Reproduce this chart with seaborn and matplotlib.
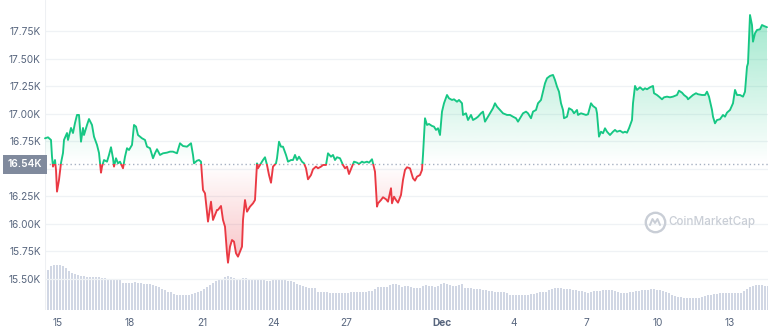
import numpy as np
import pandas as pd
import matplotlib
matplotlib.use("Agg")
import matplotlib.pyplot as plt
import matplotlib.dates as mdates
from matplotlib.patches import Rectangle
from matplotlib.path import Path
from matplotlib.colors import to_rgb
import seaborn as sns

# ---------------- data ----------------
start_time = "2022-11-14 11:00"
price_hours = [0, 3, 6, 7, 8, 10, 11, 12, 14, 16, 18, 19, 22, 23, 26, 28, 30, 32, 34, 36, 38, 39, 42, 44, 47, 49,
               52, 54, 56, 57, 59, 62, 64, 66, 68, 69, 71, 73, 75, 78, 80, 82, 84, 87, 89, 91, 93, 97, 100, 102,
               105, 108, 110, 112, 115, 118, 122, 125, 128, 132, 135, 138, 142, 146, 148, 149, 152, 154, 156, 158,
               160, 163, 166, 168, 172, 173, 176, 178, 180, 182, 183, 185, 187, 189, 191, 193, 195, 197, 198, 200,
               202, 205, 208, 210, 212, 213, 216, 218, 220, 222, 224, 226, 228, 231, 232, 234, 236, 238, 241, 243,
               246, 248, 250, 252, 254, 257, 259, 261, 263, 266, 268, 271, 273, 276, 278, 281, 283, 286, 288, 290,
               292, 295, 298, 300, 302, 304, 307, 309, 312, 314, 317, 319, 322, 324, 327, 328, 330, 332, 333, 336,
               338, 341, 343, 346, 347, 349, 351, 353, 356, 358, 360, 362, 365, 368, 370, 372, 375, 377, 378, 380,
               382, 384, 387, 389, 391, 393, 395, 397, 399, 402, 404, 407, 409, 412, 414, 417, 418, 421, 423, 426,
               428, 431, 433, 436, 438, 440, 442, 445, 448, 450, 452, 455, 458, 462, 465, 468, 471, 473, 476, 478,
               481, 483, 486, 488, 491, 493, 496, 498, 500, 502, 505, 508, 510, 512, 514, 516, 518, 519, 522, 524,
               527, 529, 532, 533, 536, 538, 541, 543, 546, 548, 551, 552, 554, 556, 558, 560, 562, 565, 568, 570,
               572, 575, 578, 580, 582, 584, 587, 588, 590, 592, 595, 598, 600, 602, 605, 608, 609, 612, 614, 617,
               619, 622, 625, 628, 632, 634, 637, 639, 642, 643, 646, 648, 651, 653, 657, 660, 662, 664, 667, 668,
               670, 672, 675, 678, 680, 682, 685, 688, 690, 692, 695, 698, 700, 702, 703, 705, 707, 708, 710, 712,
               715, 717, 719, 722]
price_k = [16.776, 16.785, 16.761, 16.609, 16.519, 16.579, 16.489, 16.292, 16.398, 16.552, 16.643, 16.761, 16.824,
           16.761, 16.870, 16.824, 16.915, 16.988, 16.988, 16.745, 16.870, 16.806, 16.897, 16.951, 16.897, 16.791,
           16.716, 16.643, 16.464, 16.519, 16.579, 16.564, 16.625, 16.695, 16.595, 16.519, 16.595, 16.549, 16.564,
           16.504, 16.609, 16.686, 16.670, 16.716, 16.897, 16.882, 16.806, 16.776, 16.761, 16.700, 16.686, 16.595,
           16.640, 16.677, 16.625, 16.640, 16.646, 16.655, 16.655, 16.640, 16.731, 16.706, 16.700, 16.731, 16.625,
           16.549, 16.573, 16.579, 16.564, 16.307, 16.277, 16.020, 16.201, 16.035, 16.126, 16.126, 16.162, 16.035,
           15.974, 15.733, 15.647, 15.793, 15.853, 15.838, 15.733, 15.702, 15.747, 15.793, 16.035, 16.216, 16.110,
           16.156, 16.186, 16.216, 16.549, 16.504, 16.549, 16.579, 16.604, 16.534, 16.443, 16.373, 16.519, 16.549,
           16.595, 16.745, 16.700, 16.700, 16.625, 16.564, 16.579, 16.579, 16.625, 16.579, 16.609, 16.564, 16.549,
           16.504, 16.404, 16.443, 16.495, 16.519, 16.504, 16.519, 16.534, 16.534, 16.640, 16.609, 16.625, 16.579,
           16.604, 16.595, 16.534, 16.504, 16.519, 16.452, 16.519, 16.564, 16.555, 16.543, 16.564, 16.555, 16.564,
           16.555, 16.586, 16.549, 16.473, 16.156, 16.186, 16.216, 16.241, 16.223, 16.201, 16.323, 16.186, 16.246,
           16.216, 16.192, 16.262, 16.398, 16.489, 16.513, 16.504, 16.413, 16.392, 16.428, 16.443, 16.489, 16.625,
           16.958, 16.897, 16.906, 16.888, 16.882, 16.852, 16.867, 16.806, 17.018, 17.094, 17.169, 17.139, 17.124,
           17.130, 17.108, 17.124, 17.094, 16.988, 17.003, 16.942, 16.988, 16.942, 16.958, 16.972, 17.003, 17.018,
           16.927, 16.958, 17.003, 17.049, 17.094, 17.063, 17.033, 17.003, 16.988, 16.988, 16.972, 16.958, 16.927,
           16.972, 17.003, 17.018, 17.003, 16.958, 17.018, 17.033, 17.094, 17.124, 17.199, 17.275, 17.321, 17.342,
           17.351, 17.305, 17.245, 17.199, 17.094, 17.033, 16.958, 16.972, 17.049, 17.033, 17.003, 17.033, 16.988,
           17.003, 16.997, 16.988, 16.994, 17.094, 17.069, 17.049, 17.003, 16.791, 16.836, 16.822, 16.867, 16.836,
           16.806, 16.836, 16.852, 16.836, 16.845, 16.827, 16.836, 16.827, 16.867, 16.942, 17.094, 17.251, 17.215,
           17.239, 17.215, 17.230, 17.221, 17.239, 17.251, 17.185, 17.169, 17.154, 17.130, 17.148, 17.154, 17.148,
           17.154, 17.169, 17.208, 17.190, 17.169, 17.148, 17.130, 17.154, 17.169, 17.185, 17.176, 17.169, 17.169,
           17.199, 17.154, 17.033, 16.972, 16.912, 16.942, 16.949, 16.988, 16.972, 17.009, 17.033, 17.094, 17.215,
           17.169, 17.169, 17.154, 17.199, 17.426, 17.457, 17.895, 17.804, 17.653, 17.729, 17.759, 17.765, 17.804,
           17.795, 17.784]
baseline_k = 16.54
volume_step_hours = 3
volume_b = [37, 40, 44, 45, 45, 45, 44, 42, 39, 37, 36, 35, 34.5, 34, 33.5, 33, 33, 33, 32.7, 32.5, 32, 31.5, 31,
            31, 31, 30, 27.5, 27, 26.7, 27, 28, 27, 26.7, 26.5, 26, 25.8, 25, 24, 23, 21.5, 20, 18.5, 17.7, 16.5,
            15.5, 15, 15, 15, 15.2, 15.7, 17.5, 18.5, 19.5, 21, 23, 25.5, 27.5, 29, 30.5, 31.5, 33, 34.3, 33.5, 32,
            31, 31.2, 32, 32.5, 31.5, 30, 30.7, 31, 31, 30.3, 29.5, 29.2, 30, 30.5, 31, 30.5, 29.8, 29.3, 28.7, 28,
            26.5, 25.5, 24, 23.3, 22.5, 22, 21.7, 17.7, 17.7, 17.7, 17.7, 17.5, 17.3, 17, 16.8, 16.7, 17, 17.3,
            17.7, 17.7, 17.7, 18, 18.3, 18.3, 18.6, 19, 21.5, 22.7, 23.3, 23.3, 23.3, 25, 26, 26, 24.8, 23.5, 24,
            23.7, 23.3, 22, 21.9, 22.3, 24, 25, 24.3, 23.8, 23.3, 24.5, 25.7, 26.7, 25.7, 24.8, 24.3, 24.3, 25,
            25.7, 22.3, 22, 21.6, 21.2, 21, 20.7, 20.3, 20, 19.3, 18.8, 18.3, 18.3, 18.2, 17.8, 17.5, 15, 15, 15,
            15, 15, 15, 15.3, 15.8, 16.5, 17, 17.7, 18, 18.5, 20.2, 21, 21.7, 21.7, 21.7, 21.2, 21, 20.7, 20.3, 20,
            19.2, 18.6, 18, 17.5, 18, 18.8, 19.3, 19.5, 19.7, 20, 20, 20, 19.5, 18.5, 17.5, 16.7, 17, 17.7, 18.3,
            18.8, 19.3, 19.7, 20, 20.3, 20.7, 21, 20.5, 20, 19.3, 18.5, 17, 15.5, 14, 13.2, 12.8, 12.5, 12.3, 12.3,
            12.3, 12.3, 12.5, 13, 14, 14.8, 15.3, 15.8, 16.3, 16.7, 17, 17.2, 17.3, 17, 16.7, 16.7, 17.5, 19, 21,
            23, 24.3, 24.8, 25, 25, 24.5, 24]
ytick_values = [15.50, 15.75, 16.00, 16.25, 16.75, 17.00, 17.25, 17.50, 17.75]
grid_values = [15.50, 15.75, 16.00, 16.25, 16.50, 16.75, 17.00, 17.25, 17.50, 17.75]
xtick_dates = ["2022-11-15", "2022-11-18", "2022-11-21", "2022-11-24", "2022-11-27",
               "2022-12-01", "2022-12-04", "2022-12-07", "2022-12-10", "2022-12-13"]
xtick_labels = ["15", "18", "21", "24", "27", "Dec", "4", "7", "10", "13"]
watermark_text = "CoinMarketCap"

# ---------------- styling ----------------
GREEN = "#16c784"
RED = "#ea3943"
TICK_COLOR = "#58667e"
GRID_COLOR = "#eff2f5"
VOL_COLOR = "#d1d7e4"

sns.set_theme(style="white")
plt.rcParams["font.family"] = ["Inter", "DejaVu Sans"]

W, H = 768, 332
fig = plt.figure(figsize=(W / 100, H / 100), dpi=100)
ax_left, ax_bottom, ax_right, ax_top = 45, 310, 768, 0
ax = fig.add_axes([ax_left / W, (H - ax_bottom) / H, (ax_right - ax_left) / W, (ax_bottom - ax_top) / H])
ax2 = ax.twinx()

t0 = pd.Timestamp(start_time)
times = t0 + pd.to_timedelta(price_hours, unit="h")
xs = mdates.date2num(times.to_pydatetime())
p = np.array(price_k)
df = pd.DataFrame({"t": xs, "price": p})

vol_times = t0 + pd.to_timedelta(np.arange(len(volume_b)) * volume_step_hours, unit="h")
vx = mdates.date2num(vol_times.to_pydatetime())

x_min = mdates.date2num(t0.to_pydatetime())
x_max = mdates.date2num((t0 + pd.Timedelta(hours=723)).to_pydatetime())
y_min, y_max = 15.218, 18.031

# volume bars (behind)
ax2.bar(vx, volume_b, width=2 / 24, color=VOL_COLOR, linewidth=0, align="center")
ax2.set_ylim(0, 310)
ax2.set_yticks([])
for s in ax2.spines.values():
    s.set_visible(False)
ax.set_zorder(ax2.get_zorder() + 1)
ax.patch.set_visible(False)

# gridlines
for g in grid_values:
    ax.axhline(g, color=GRID_COLOR, lw=0.9, zorder=0)


def gradient_fill(mask, color, y_far, alpha_max):
    poly = ax.fill_between(xs, p, baseline_k, where=mask, interpolate=True,
                           facecolor="none", edgecolor="none")
    path = Path.make_compound_path(*poly.get_paths())
    n = 256
    arr = np.zeros((n, 1, 4))
    arr[..., :3] = to_rgb(color)
    if y_far > baseline_k:
        lo, hi = baseline_k, y_far
        a = np.linspace(0, alpha_max, n)
    else:
        lo, hi = y_far, baseline_k
        a = np.linspace(alpha_max, 0, n)
    arr[:, 0, 3] = a
    im = ax.imshow(arr, extent=[x_min, x_max, lo, hi], origin="lower",
                   aspect="auto", zorder=1, interpolation="bilinear")
    im.set_clip_path(path, ax.transData)
    poly.remove()


gradient_fill(p >= baseline_k, GREEN, 17.95, 0.42)
gradient_fill(p <= baseline_k, RED, 15.6, 0.32)

# price line split by baseline
sns.lineplot(data=df, x="t", y="price", ax=ax, color=GREEN, lw=1.35, zorder=3)
line_up = ax.lines[-1]
sns.lineplot(data=df, x="t", y="price", ax=ax, color=RED, lw=1.35, zorder=3)
line_dn = ax.lines[-1]
clip_up = Rectangle((x_min - 5, baseline_k), x_max - x_min + 10, 10, transform=ax.transData)
clip_dn = Rectangle((x_min - 5, baseline_k - 10), x_max - x_min + 10, 10, transform=ax.transData)
line_up.set_clip_path(clip_up)
line_dn.set_clip_path(clip_dn)

# baseline dotted
ax.axhline(baseline_k, color="#a7b1c2", lw=1.0, ls=(0, (1, 2)), zorder=2)

ax.set_xlim(x_min, x_max)
ax.set_ylim(y_min, y_max)
ax.set_xlabel("")
ax.set_ylabel("")
for s in ax.spines.values():
    s.set_visible(False)
ax.axvline(x_min, color="#eef0f3", lw=0.8, zorder=0)

ax.set_yticks(ytick_values)
ax.set_yticklabels([f"{v:.2f}K" for v in ytick_values])
ax.tick_params(axis="y", length=0, pad=3, labelsize=7.3, labelcolor=TICK_COLOR)

xt = mdates.date2num(pd.to_datetime(xtick_dates).to_pydatetime())
ax.set_xticks(xt)
ax.set_xticklabels(xtick_labels)
ax.tick_params(axis="x", length=3, width=0.7, color="#cfd6e4", pad=3, labelsize=7.3, labelcolor=TICK_COLOR)
for lab in ax.get_xticklabels():
    if lab.get_text() == "Dec":
        lab.set_fontweight("bold")

# current price label box
ax.text(-3 / 723, baseline_k, f"{baseline_k:.2f}K", transform=ax.get_yaxis_transform(),
        ha="right", va="center", fontsize=7.3, color="white", fontweight="semibold",
        bbox=dict(boxstyle="square,pad=0.45", fc="#808a9d", ec="none"), zorder=10, clip_on=False)

# watermark
wm_color = "#c9ced6"
lx = (655 - ax_left) / (ax_right - ax_left)
ly = (ax_bottom - 222) / (ax_bottom - ax_top)
ax.plot([lx], [ly], marker="o", ms=14, mfc="none", mec=wm_color, mew=1.7,
        transform=ax.transAxes, zorder=2, clip_on=False)
wx = np.array([-5, -2.5, 0, 2.5, 5]) / 723
wy = np.array([-3, 3, -1, 3, -3]) / 310
ax.plot(lx + wx, ly + wy, color=wm_color, lw=1.4, transform=ax.transAxes, zorder=2)
ax.text((668 - ax_left) / (ax_right - ax_left), ly, watermark_text, transform=ax.transAxes,
        ha="left", va="center", fontsize=8.4, color=wm_color, fontweight="medium", zorder=2)

fig.savefig("out.png", dpi=100)
